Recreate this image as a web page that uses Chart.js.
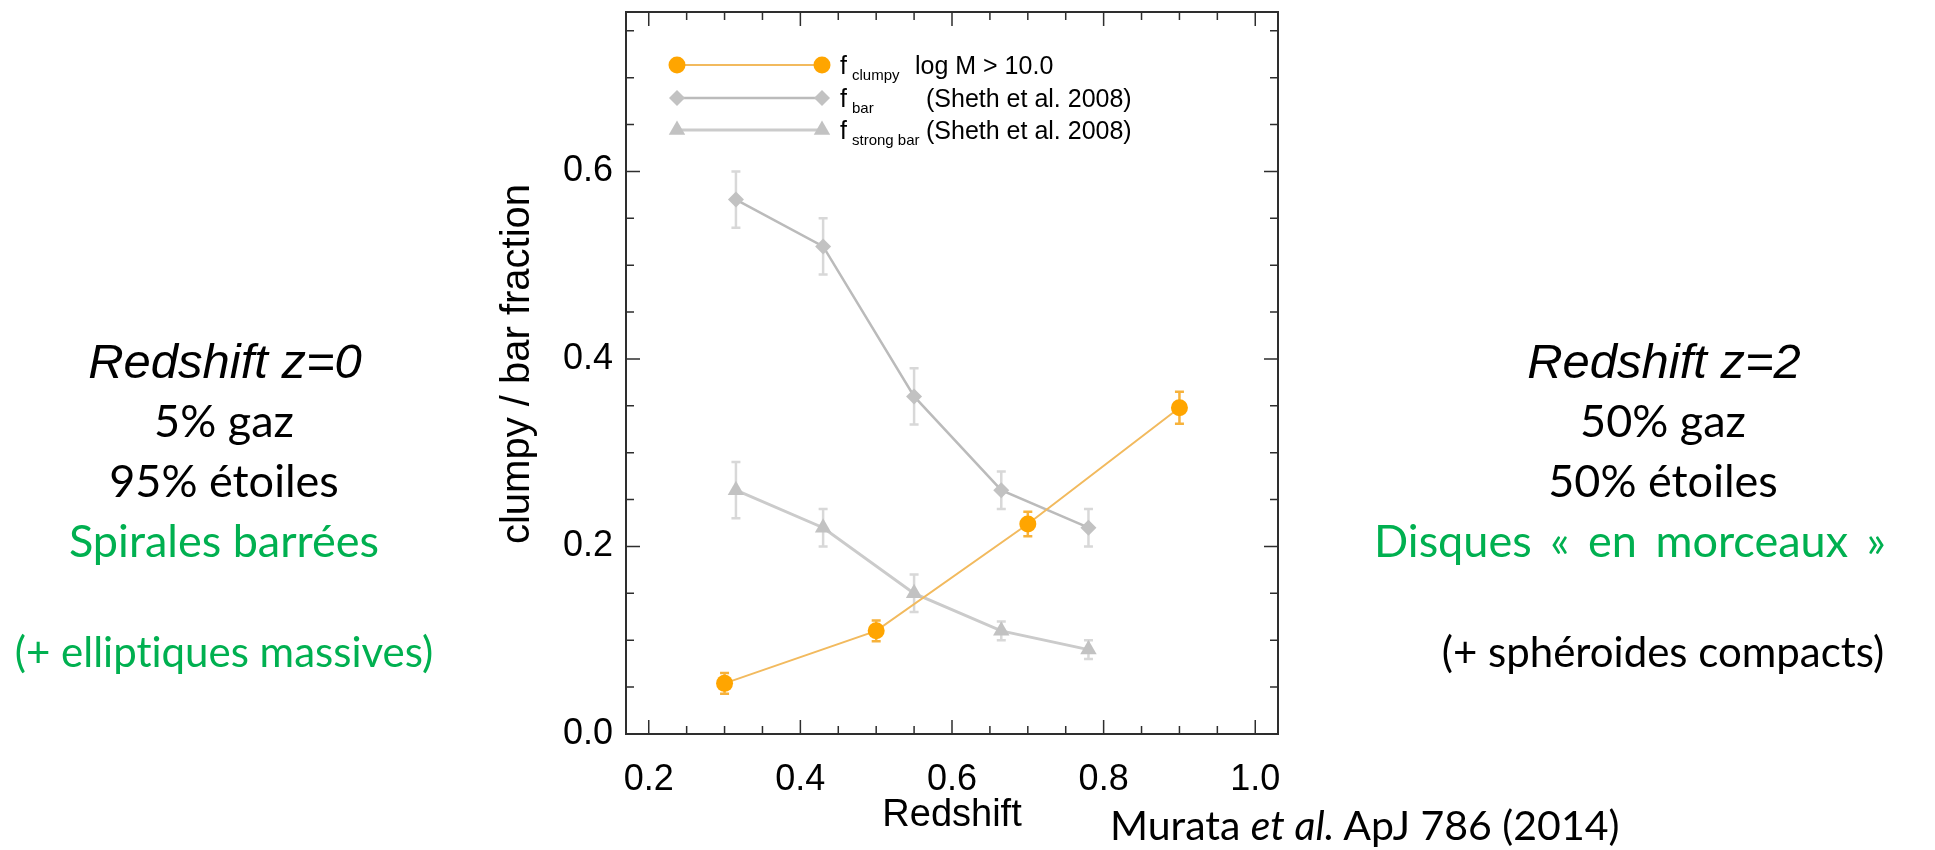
<!DOCTYPE html>
<html><head><meta charset="utf-8">
<script src="https://cdn.jsdelivr.net/npm/chart.js@4/dist/chart.umd.min.js"></script>
<style>
html,body{margin:0;padding:0;background:#fff;width:1935px;height:850px;overflow:hidden}
#wrap{position:absolute;left:0;top:0;width:1935px;height:850px}
.t{position:absolute;white-space:nowrap;line-height:1;transform:translateX(-50%);font-variant-ligatures:none}
.cal{font-family:Lato,"Open Sans",sans-serif;font-size:45px;color:#000}
.ital{font-family:"Liberation Sans",Arial,sans-serif;font-style:italic;font-size:49px;color:#000}
.g{color:#00B050}
.ref{position:absolute;white-space:nowrap;line-height:1;font-family:Lato,"Open Sans",sans-serif;font-size:41px;color:#000;font-variant-ligatures:none}
</style></head>
<body>
<div id="wrap"><canvas id="c" width="1935" height="850"></canvas></div>

<div class="t ital" style="left:225px;top:337px">Redshift z=0</div>
<div class="t cal" style="left:224px;top:398px">5% gaz</div>
<div class="t cal" style="left:224px;top:458px">95% étoiles</div>
<div class="t cal g" style="left:224px;top:518px">Spirales barrées</div>
<div class="t cal g" style="left:224px;top:630px;font-size:42px">(+ elliptiques massives)</div>

<div class="t ital" style="left:1664px;top:337px">Redshift z=2</div>
<div class="t cal" style="left:1663px;top:398px">50% gaz</div>
<div class="t cal" style="left:1663px;top:458px">50% étoiles</div>
<div class="t cal g" style="left:1630px;top:518px;word-spacing:7px">Disques « en morceaux »</div>
<div class="t cal" style="left:1663px;top:630px;font-size:42px">(+ sphéroides compacts)</div>

<div class="ref" style="left:1110px;top:804px">Murata <i>et al.</i> ApJ 786 (2014)</div>

<script>
// ---- data ----
const clumpyZ   = [0.30, 0.50, 0.70, 0.90];
const clumpyF   = [0.054, 0.110, 0.224, 0.348];
const clumpyErr = [0.011, 0.011, 0.013, 0.017];

const barZ      = [0.315, 0.43, 0.55, 0.665, 0.78];
const barF      = [0.57, 0.52, 0.36, 0.26, 0.22];
const barErr    = [0.03, 0.03, 0.03, 0.02, 0.02];

const strongZ   = [0.315, 0.43, 0.55, 0.665, 0.78];
const strongF   = [0.26, 0.22, 0.15, 0.11, 0.09];
const strongErr = [0.03, 0.02, 0.02, 0.01, 0.01];

const xTicks = [0.2, 0.4, 0.6, 0.8, 1.0];
const yTicks = [0.0, 0.2, 0.4, 0.6];

const seriesMain  = ['f', 'f', 'f'];
const seriesSub   = ['clumpy', 'bar', 'strong bar'];
const seriesNote  = ['log M > 10.0', '(Sheth et al. 2008)', '(Sheth et al. 2008)'];

const xTitle = 'Redshift';
const yTitle = 'clumpy / bar fraction';

const pts = (xs, ys) => xs.map((x, i) => ({x: x, y: ys[i]}));

const ORANGE = '#FFA500', ORANGE_LINE = '#F2BA5E';
const GRAY_MK = '#C2C2C2', GRAY_LINE = '#BBBBBB', GRAY_LINE2 = '#CBCBCB', ERR_GRAY = '#D8D8D8';
const FONT = '"Liberation Sans", Arial, sans-serif';

function drawMarker(ctx, style, x, y, r, color) {
  ctx.save();
  ctx.fillStyle = color;
  ctx.beginPath();
  if (style === 'circle') {
    ctx.arc(x, y, r, 0, Math.PI * 2);
  } else if (style === 'rectRot') {
    ctx.moveTo(x, y - r); ctx.lineTo(x + r, y); ctx.lineTo(x, y + r); ctx.lineTo(x - r, y);
  } else if (style === 'triangle') {
    for (let k = 0; k < 3; k++) {
      const a = k * 2 * Math.PI / 3;
      const px = x + Math.sin(a) * r, py = y - Math.cos(a) * r;
      if (k === 0) ctx.moveTo(px, py); else ctx.lineTo(px, py);
    }
  }
  ctx.closePath();
  ctx.fill();
  ctx.restore();
}

const errorBars = {
  id: 'errorBars',
  beforeDatasetsDraw(chart) {
    const {ctx, scales: {x, y}} = chart;
    chart.data.datasets.forEach(ds => {
      if (!ds.errors) return;
      ctx.save();
      ctx.strokeStyle = ds.errorColor;
      ctx.lineWidth = 2.5;
      ds.data.forEach((p, j) => {
        const e = ds.errors[j];
        const px = x.getPixelForValue(p.x);
        const y1 = y.getPixelForValue(p.y + e), y2 = y.getPixelForValue(p.y - e);
        ctx.beginPath();
        ctx.moveTo(px, y1); ctx.lineTo(px, y2);
        ctx.moveTo(px - 4.5, y1); ctx.lineTo(px + 4.5, y1);
        ctx.moveTo(px - 4.5, y2); ctx.lineTo(px + 4.5, y2);
        ctx.stroke();
      });
      ctx.restore();
    });
  }
};

const frame = {
  id: 'frame',
  beforeDatasetsDraw(chart) {
    const {ctx, chartArea: a, scales: {x, y}} = chart;
    ctx.save();
    ctx.strokeStyle = '#2e2e2e';
    ctx.lineWidth = 2;
    ctx.strokeRect(a.left, a.top, a.right - a.left, a.bottom - a.top);
    ctx.lineWidth = 1.5;
    ctx.beginPath();
    const isMajor = (v, list) => list.some(t => Math.abs(t - v) < 1e-6);
    for (let v = Math.ceil(x.min / 0.05 - 1e-9) * 0.05; v <= x.max + 1e-9; v += 0.05) {
      const px = x.getPixelForValue(v);
      const L = isMajor(v, xTicks) ? 14 : 8;
      ctx.moveTo(px, a.bottom); ctx.lineTo(px, a.bottom - L);
      ctx.moveTo(px, a.top); ctx.lineTo(px, a.top + L);
    }
    for (let v = Math.ceil(y.min / 0.05 - 1e-9) * 0.05; v <= y.max + 1e-9; v += 0.05) {
      const py = y.getPixelForValue(v);
      const L = isMajor(v, yTicks) ? 14 : 8;
      ctx.moveTo(a.left, py); ctx.lineTo(a.left + L, py);
      ctx.moveTo(a.right, py); ctx.lineTo(a.right - L, py);
    }
    ctx.stroke();
    // y axis title
    ctx.fillStyle = '#000';
    ctx.font = '40px ' + FONT;
    ctx.textAlign = 'center';
    ctx.textBaseline = 'alphabetic';
    ctx.translate(a.left - 97, (a.top + a.bottom) / 2 - 9);
    ctx.rotate(-Math.PI / 2);
    ctx.fillText(yTitle, 0, 0);
    ctx.restore();
  }
};

const legendPlugin = {
  id: 'customLegend',
  afterDatasetsDraw(chart) {
    const {ctx, chartArea: a} = chart;
    const rowY = [53, 86, 118];
    const noteX = [289, 300, 300];
    chart.data.datasets.forEach((ds, i) => {
      const yy = a.top + rowY[i];
      const x1 = a.left + 51, x2 = a.left + 196;
      ctx.save();
      ctx.strokeStyle = ds.borderColor;
      ctx.lineWidth = ds.borderWidth;
      ctx.beginPath(); ctx.moveTo(x1, yy); ctx.lineTo(x2, yy); ctx.stroke();
      drawMarker(ctx, ds.pointStyle, x1, yy, ds.legendRadius, ds.pointBackgroundColor);
      drawMarker(ctx, ds.pointStyle, x2, yy, ds.legendRadius, ds.pointBackgroundColor);
      ctx.fillStyle = '#000';
      ctx.textBaseline = 'alphabetic';
      ctx.textAlign = 'left';
      ctx.font = '25px ' + FONT;
      ctx.fillText(seriesMain[i], a.left + 214, yy + 9);
      ctx.fillText(seriesNote[i], a.left + noteX[i], yy + 9);
      ctx.font = '15px ' + FONT;
      ctx.fillText(seriesSub[i], a.left + 226, yy + 15);
      ctx.restore();
    });
  }
};

const tickFont = {family: FONT, size: 36};
const xTitleFont = {family: FONT, size: 38};

new Chart(document.getElementById('c'), {
  type: 'line',
  data: {
    datasets: [
      {
        label: 'f_clumpy',
        data: pts(clumpyZ, clumpyF), errors: clumpyErr, errorColor: '#F7B23B',
        borderColor: ORANGE_LINE, borderWidth: 2,
        pointStyle: 'circle', pointRadius: 8.5, legendRadius: 8.5,
        pointBackgroundColor: ORANGE, pointBorderColor: ORANGE, pointBorderWidth: 0
      },
      {
        label: 'f_bar',
        data: pts(barZ, barF), errors: barErr, errorColor: ERR_GRAY,
        borderColor: GRAY_LINE, borderWidth: 2.5,
        pointStyle: 'rectRot', pointRadius: 8, legendRadius: 8,
        pointBackgroundColor: GRAY_MK, pointBorderColor: GRAY_MK, pointBorderWidth: 0
      },
      {
        label: 'f_strong_bar',
        data: pts(strongZ, strongF), errors: strongErr, errorColor: ERR_GRAY,
        borderColor: GRAY_LINE2, borderWidth: 3,
        pointStyle: 'triangle', pointRadius: 9.5, legendRadius: 9.5,
        pointBackgroundColor: GRAY_MK, pointBorderColor: GRAY_MK, pointBorderWidth: 0
      }
    ]
  },
  options: {
    responsive: false,
    animation: false,
    events: [],
    layout: {padding: {left: 470, top: 12, right: 657, bottom: 0}},
    plugins: {legend: {display: false}, tooltip: {enabled: false}},
    scales: {
      x: {
        type: 'linear', min: 0.17, max: 1.03,
        afterBuildTicks: s => { s.ticks = xTicks.map(v => ({value: v})); },
        afterFit: s => { s.height = 116; s.paddingLeft = 0; s.paddingRight = 0; },
        grid: {display: false, drawTicks: false},
        border: {display: false},
        ticks: {font: tickFont, color: '#000', padding: 24, maxRotation: 0, autoSkip: false,
                callback: v => Number(v).toFixed(1)},
        title: {display: true, text: xTitle, font: xTitleFont, color: '#000', padding: {top: 0, bottom: 12}}
      },
      y: {
        type: 'linear', min: 0, max: 0.77,
        afterBuildTicks: s => { s.ticks = yTicks.map(v => ({value: v})); },
        afterFit: s => { s.width = 156; s.paddingTop = 0; s.paddingBottom = 0; },
        grid: {display: false, drawTicks: false},
        border: {display: false},
        ticks: {font: tickFont, color: '#000', padding: 13, autoSkip: false,
                callback: v => Number(v).toFixed(1)},
        title: {display: false}
      }
    }
  },
  plugins: [frame, errorBars, legendPlugin]
});
</script>
</body></html>
